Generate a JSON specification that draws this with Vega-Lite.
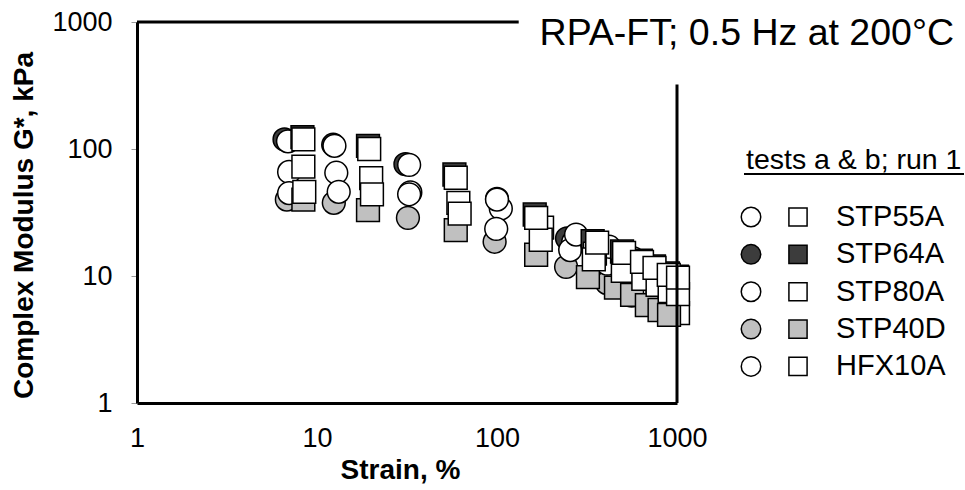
{
  "$schema": "https://vega.github.io/schema/vega-lite/v6.json",
  "autosize": {"type": "pad"},
  "padding": {"left": 9, "top": 8, "right": 0, "bottom": 0},
  "background": "white",
  "bounds": "flush",
  "spacing": 74,
  "config": {"font": "Liberation Sans", "view": {"stroke": null}},
  "resolve": {"scale": {"x": "independent", "y": "independent", "shape": "shared", "fill": "shared", "size": "independent"}},
  "datasets": {
    "points": [
      {"material": "STP64A", "test": "a", "strain": 6.6, "G": 119},
      {"material": "STP64A", "test": "a", "strain": 12.3, "G": 108},
      {"material": "STP64A", "test": "a", "strain": 31, "G": 76},
      {"material": "STP64A", "test": "a", "strain": 100, "G": 40.5},
      {"material": "STP64A", "test": "a", "strain": 245, "G": 19.8},
      {"material": "STP64A", "test": "a", "strain": 400, "G": 16},
      {"material": "HFX10A", "test": "a", "strain": 7, "G": 66},
      {"material": "HFX10A", "test": "a", "strain": 12.8, "G": 65},
      {"material": "HFX10A", "test": "a", "strain": 33, "G": 45.5},
      {"material": "HFX10A", "test": "a", "strain": 105, "G": 34},
      {"material": "HFX10A", "test": "a", "strain": 265, "G": 18.5},
      {"material": "HFX10A", "test": "a", "strain": 430, "G": 13.5},
      {"material": "HFX10A", "test": "a", "strain": 580, "G": 10.5},
      {"material": "HFX10A", "test": "a", "strain": 750, "G": 8.5},
      {"material": "STP40D", "test": "a", "strain": 6.8, "G": 40},
      {"material": "STP40D", "test": "a", "strain": 12.4, "G": 37.7},
      {"material": "STP40D", "test": "a", "strain": 32, "G": 28.7},
      {"material": "STP40D", "test": "a", "strain": 97, "G": 18.6},
      {"material": "STP40D", "test": "a", "strain": 242, "G": 11.8},
      {"material": "STP40D", "test": "a", "strain": 408, "G": 8.8},
      {"material": "STP40D", "test": "a", "strain": 560, "G": 7},
      {"material": "STP40D", "test": "a", "strain": 720, "G": 6},
      {"material": "STP80A", "test": "a", "strain": 7, "G": 45},
      {"material": "STP80A", "test": "a", "strain": 13.2, "G": 46},
      {"material": "STP80A", "test": "a", "strain": 32.5, "G": 44},
      {"material": "STP80A", "test": "a", "strain": 99, "G": 23.5},
      {"material": "STP80A", "test": "a", "strain": 255, "G": 16},
      {"material": "STP80A", "test": "a", "strain": 410, "G": 12.5},
      {"material": "STP80A", "test": "a", "strain": 560, "G": 10},
      {"material": "STP80A", "test": "a", "strain": 720, "G": 8.8},
      {"material": "STP55A", "test": "a", "strain": 6.9, "G": 115},
      {"material": "STP55A", "test": "a", "strain": 12.5, "G": 106},
      {"material": "STP55A", "test": "a", "strain": 32.5, "G": 75},
      {"material": "STP55A", "test": "a", "strain": 100, "G": 40},
      {"material": "STP55A", "test": "a", "strain": 275, "G": 21.2},
      {"material": "STP55A", "test": "a", "strain": 420, "G": 17},
      {"material": "STP55A", "test": "a", "strain": 570, "G": 13.8},
      {"material": "STP55A", "test": "a", "strain": 740, "G": 11.8},
      {"material": "STP64A", "test": "b", "strain": 8.3, "G": 124},
      {"material": "STP64A", "test": "b", "strain": 19.2, "G": 106},
      {"material": "STP64A", "test": "b", "strain": 58, "G": 63},
      {"material": "STP64A", "test": "b", "strain": 162, "G": 30.5},
      {"material": "STP64A", "test": "b", "strain": 340, "G": 18.8},
      {"material": "STP64A", "test": "b", "strain": 495, "G": 15.6},
      {"material": "STP64A", "test": "b", "strain": 630, "G": 13.2},
      {"material": "STP64A", "test": "b", "strain": 745, "G": 11.9},
      {"material": "STP64A", "test": "b", "strain": 890, "G": 10.5},
      {"material": "STP64A", "test": "b", "strain": 1000, "G": 9.9},
      {"material": "HFX10A", "test": "b", "strain": 8.4, "G": 72.6},
      {"material": "HFX10A", "test": "b", "strain": 20, "G": 59},
      {"material": "HFX10A", "test": "b", "strain": 61, "G": 37.7},
      {"material": "HFX10A", "test": "b", "strain": 178, "G": 24},
      {"material": "HFX10A", "test": "b", "strain": 350, "G": 15},
      {"material": "HFX10A", "test": "b", "strain": 510, "G": 11},
      {"material": "HFX10A", "test": "b", "strain": 650, "G": 8.6},
      {"material": "HFX10A", "test": "b", "strain": 780, "G": 7.1},
      {"material": "HFX10A", "test": "b", "strain": 910, "G": 6.1},
      {"material": "HFX10A", "test": "b", "strain": 1013, "G": 5.1},
      {"material": "STP40D", "test": "b", "strain": 8.4, "G": 40},
      {"material": "STP40D", "test": "b", "strain": 19.2, "G": 33},
      {"material": "STP40D", "test": "b", "strain": 59, "G": 23},
      {"material": "STP40D", "test": "b", "strain": 165, "G": 14.7},
      {"material": "STP40D", "test": "b", "strain": 320, "G": 9.8},
      {"material": "STP40D", "test": "b", "strain": 458, "G": 8.1},
      {"material": "STP40D", "test": "b", "strain": 563, "G": 7.1},
      {"material": "STP40D", "test": "b", "strain": 680, "G": 5.9},
      {"material": "STP40D", "test": "b", "strain": 800, "G": 5.4},
      {"material": "STP40D", "test": "b", "strain": 903, "G": 4.95},
      {"material": "STP80A", "test": "b", "strain": 8.5, "G": 46},
      {"material": "STP80A", "test": "b", "strain": 20.2, "G": 44},
      {"material": "STP80A", "test": "b", "strain": 62, "G": 31},
      {"material": "STP80A", "test": "b", "strain": 175, "G": 19.3},
      {"material": "STP80A", "test": "b", "strain": 345, "G": 13.5},
      {"material": "STP80A", "test": "b", "strain": 500, "G": 11},
      {"material": "STP80A", "test": "b", "strain": 650, "G": 9.5},
      {"material": "STP80A", "test": "b", "strain": 780, "G": 8.5},
      {"material": "STP80A", "test": "b", "strain": 910, "G": 7.6},
      {"material": "STP80A", "test": "b", "strain": 1013, "G": 7.2},
      {"material": "STP55A", "test": "b", "strain": 8.4, "G": 119},
      {"material": "STP55A", "test": "b", "strain": 19.5, "G": 100},
      {"material": "STP55A", "test": "b", "strain": 59, "G": 59.4},
      {"material": "STP55A", "test": "b", "strain": 165, "G": 28.7},
      {"material": "STP55A", "test": "b", "strain": 360, "G": 18.3},
      {"material": "STP55A", "test": "b", "strain": 508, "G": 15.2},
      {"material": "STP55A", "test": "b", "strain": 639, "G": 12.9},
      {"material": "STP55A", "test": "b", "strain": 750, "G": 11.6},
      {"material": "STP55A", "test": "b", "strain": 900, "G": 10.2},
      {"material": "STP55A", "test": "b", "strain": 1013, "G": 9.7}
    ],
    "legend": [
      {"material": "STP55A", "test": "a"},
      {"material": "STP55A", "test": "b"},
      {"material": "STP64A", "test": "a"},
      {"material": "STP64A", "test": "b"},
      {"material": "STP80A", "test": "a"},
      {"material": "STP80A", "test": "b"},
      {"material": "STP40D", "test": "a"},
      {"material": "STP40D", "test": "b"},
      {"material": "HFX10A", "test": "a"},
      {"material": "HFX10A", "test": "b"}
    ]
  },
  "hconcat": [
    {
      "width": 540,
      "height": 381,
      "layer": [
        {
          "data": {"name": "points"},
          "mark": {"type": "point", "filled": true, "stroke": "black", "strokeWidth": 1.5, "opacity": 1, "size": 520},
          "encoding": {
            "x": {
              "field": "strain", "type": "quantitative",
              "scale": {"type": "log", "domain": [1, 1000]},
              "axis": {
                "title": "Strain, %", "values": [1, 10, 100, 1000], "format": "d",
                "grid": false, "ticks": false, "domainColor": "black", "domainWidth": 3,
                "labelFontSize": 27, "labelColor": "black", "labelPadding": 22, "labelFlush": false,
                "titleFontSize": 28, "titleFontWeight": "bold", "titleColor": "black",
                "titleX": 263, "titleY": 67, "titleBaseline": "middle", "titleAlign": "center"
              }
            },
            "y": {
              "field": "G", "type": "quantitative",
              "scale": {"type": "log", "domain": [1, 1000]},
              "axis": {
                "title": "Complex Modulus G*, kPa", "values": [1, 10, 100, 1000], "format": "d",
                "grid": false, "ticks": true, "tickSize": 6, "tickColor": "#999999", "tickWidth": 1,
                "domainColor": "black", "domainWidth": 3,
                "labelFontSize": 27, "labelColor": "black", "labelPadding": 19, "labelFlush": false,
                "titleFontSize": 28, "titleFontWeight": "bold", "titleColor": "black",
                "titleX": -113, "titleY": 203, "titleAngle": -90, "titleBaseline": "middle", "titleAlign": "center"
              }
            },
            "shape": {"field": "test", "type": "nominal", "scale": {"domain": ["a", "b"], "range": ["circle", "square"]}, "legend": null},
            "fill": {
              "field": "material", "type": "nominal",
              "scale": {"domain": ["STP55A", "STP64A", "STP80A", "STP40D", "HFX10A"], "range": ["#ffffff", "#3c3c3c", "#ffffff", "#c0c0c0", "#ffffff"]},
              "legend": null
            }
          }
        },
        {
          "data": {"values": [{}]},
          "mark": {"type": "rule", "color": "black", "strokeWidth": 3},
          "encoding": {"x": {"datum": 1}, "x2": {"datum": 132}, "y": {"datum": 1000}}
        },
        {
          "data": {"values": [{}]},
          "mark": {"type": "rule", "color": "black", "strokeWidth": 3},
          "encoding": {"x": {"datum": 1000}, "y": {"datum": 1}, "y2": {"datum": 322}}
        },
        {
          "data": {"values": [{}]},
          "mark": {"type": "text", "fontSize": 37.5, "align": "right", "baseline": "alphabetic", "dx": 277, "dy": 23, "color": "black"},
          "encoding": {"x": {"datum": 1000}, "y": {"datum": 1000}, "text": {"value": "RPA-FT; 0.5 Hz at 200°C"}}
        }
      ]
    },
    {
      "width": 47,
      "height": 381,
      "data": {"name": "legend"},
      "encoding": {
        "x": {"field": "test", "type": "nominal", "scale": {"type": "point", "domain": ["a", "b"], "padding": 0}, "axis": null},
        "y": {"field": "material", "type": "nominal", "scale": {"type": "point", "domain": ["_1", "_2", "_3", "_4", "_5", "STP55A", "STP64A", "STP80A", "STP40D", "HFX10A"], "padding": 0.6, "align": 0.184}, "axis": null}
      },
      "layer": [
        {
          "mark": {"type": "point", "filled": true, "stroke": "black", "strokeWidth": 1.5, "opacity": 1},
          "encoding": {
            "shape": {"field": "test", "type": "nominal", "scale": {"domain": ["a", "b"], "range": ["circle", "square"]}, "legend": null},
            "fill": {
              "field": "material", "type": "nominal",
              "scale": {"domain": ["STP55A", "STP64A", "STP80A", "STP40D", "HFX10A"], "range": ["#ffffff", "#3c3c3c", "#ffffff", "#c0c0c0", "#ffffff"]},
              "legend": null
            },
            "size": {"field": "test", "type": "ordinal", "scale": {"domain": ["a", "b"], "range": [380, 330]}, "legend": null}
          }
        },
        {
          "transform": [{"filter": "datum.test == 'b'"}],
          "mark": {"type": "text", "align": "left", "baseline": "middle", "dx": 38, "fontSize": 29, "color": "black"},
          "encoding": {"text": {"field": "material"}}
        },
        {
          "data": {"values": [{}]},
          "mark": {"type": "text", "align": "left", "baseline": "alphabetic", "dx": -5, "dy": -48, "fontSize": 28.5, "color": "black"},
          "encoding": {"x": {"datum": "a"}, "y": {"datum": "STP55A"}, "text": {"value": "tests a & b; run 1"}}
        },
        {
          "data": {"values": [{}]},
          "mark": {"type": "rule", "color": "black", "strokeWidth": 2, "xOffset": -7, "x2Offset": 166, "yOffset": -43},
          "encoding": {"x": {"datum": "a"}, "x2": {"datum": "b"}, "y": {"datum": "STP55A"}}
        }
      ]
    }
  ]
}
